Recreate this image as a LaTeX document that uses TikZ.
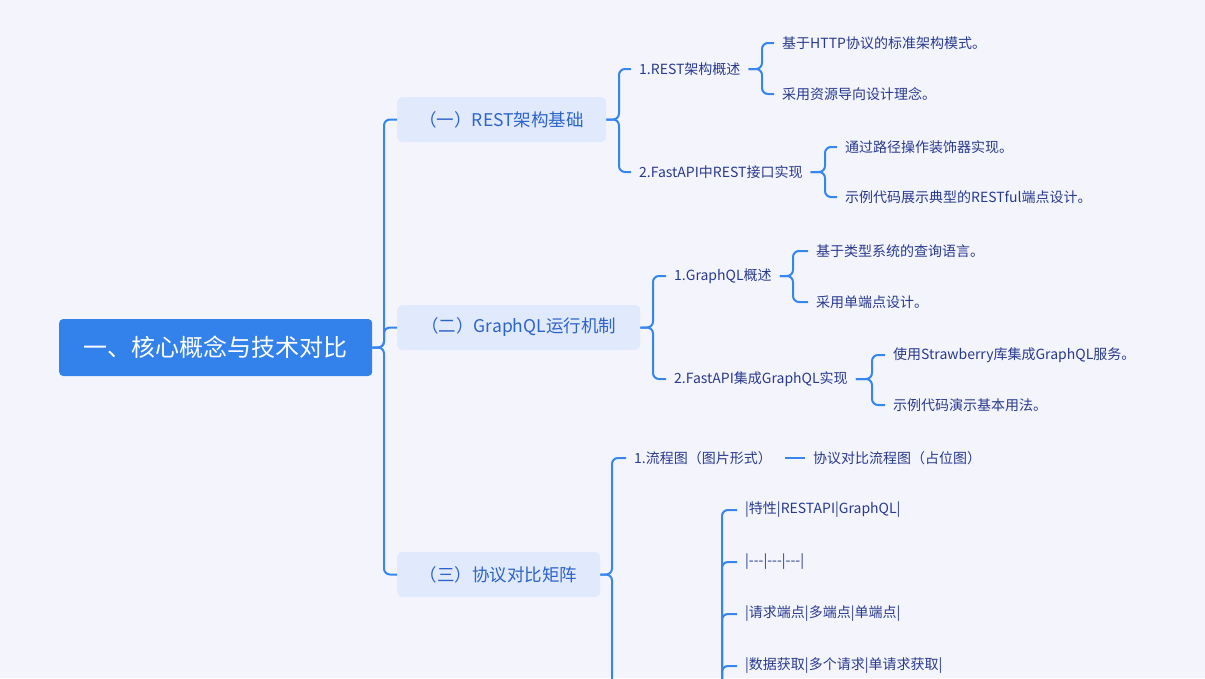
\documentclass[tikz,border=0pt]{standalone}
\usepackage{fontspec}
\setmainfont{Noto Sans CJK SC}
\definecolor{bg}{HTML}{F4F5FC}
\definecolor{rootc}{HTML}{3381EB}
\definecolor{boxc}{HTML}{E1E9FC}
\definecolor{lineC}{HTML}{3586EE}
\definecolor{tone}{HTML}{2C64CC}
\definecolor{ttwo}{HTML}{283A8E}
\tikzset{
  rootnode/.style={fill=rootc, rounded corners=4pt, text=white, font=\fontsize{24}{28}\selectfont, minimum width=313pt, minimum height=57pt, inner sep=0pt, anchor=west},
  catnode/.style={fill=boxc, rounded corners=5pt, text=tone, font=\fontsize{17.5}{21}\selectfont, minimum height=45pt, inner sep=0pt, anchor=west},
  leaf/.style={text=ttwo, font=\fontsize{14}{17}\selectfont, anchor=west, inner xsep=8pt, inner ysep=2pt},
  conn/.style={draw=lineC, line width=2pt, rounded corners=6pt},
}
\begin{document}
\begin{tikzpicture}[x=1pt,y=-1pt]
\useasboundingbox (0,0) rectangle (1205,678);
\fill[bg] (0,0) rectangle (1205,678);
\clip (0,0) rectangle (1205,678);

\node[rootnode] (root) at (59,347.5) {一、核心概念与技术对比};
\node[catnode, minimum width=209pt] (c1) at (397,119.5) {（一）REST架构基础};
\node[catnode, minimum width=243pt] (c2) at (397,327.5) {（二）GraphQL运行机制};
\node[catnode, minimum width=203pt] (c3) at (397,574.5) {（三）协议对比矩阵};

\node[leaf] (a) at (631,69) {1.REST架构概述};
\node[leaf] (b) at (631,172) {2.FastAPI中REST接口实现};
\node[leaf] (c) at (666,276) {1.GraphQL概述};
\node[leaf] (d) at (666,379) {2.FastAPI集成GraphQL实现};
\node[leaf] (e) at (626,458) {1.流程图（图片形式）};

\node[leaf] (a1) at (774,43) {基于HTTP协议的标准架构模式。};
\node[leaf] (a2) at (774,94) {采用资源导向设计理念。};
\node[leaf] (b1) at (837,147) {通过路径操作装饰器实现。};
\node[leaf] (b2) at (837,197) {示例代码展示典型的RESTful端点设计。};
\node[leaf] (cc1) at (808,251) {基于类型系统的查询语言。};
\node[leaf] (cc2) at (808,302) {采用单端点设计。};
\node[leaf] (d1) at (885,355) {使用Strawberry库集成GraphQL服务。};
\node[leaf] (d2) at (885,405) {示例代码演示基本用法。};
\node[leaf] (e1) at (805,458) {协议对比流程图（占位图）};

\node[leaf] (r1) at (737,510) {|特性|RESTAPI|GraphQL|};
\node[leaf] (r2) at (737,562) {|{-}{-}{-}|{-}{-}{-}|{-}{-}{-}|};
\node[leaf] (r3) at (737,614) {|请求端点|多端点|单端点|};
\node[leaf] (r4) at (737,666) {|数据获取|多个请求|单请求获取|};

\coordinate (tb) at (722,700);
\coordinate (c3b) at (612,700);

\draw[conn] (root.east) -- (384,347.5) |- (c1.west);
\draw[conn] (root.east) -- (384,347.5) |- (c2.west);
\draw[conn] (root.east) -- (384,347.5) |- (c3.west);

\draw[conn] (c1.east) -- (619,119.5) |- (a.west);
\draw[conn] (c1.east) -- (619,119.5) |- (b.west);
\draw[conn] (c2.east) -- (653,327.5) |- (c.west);
\draw[conn] (c2.east) -- (653,327.5) |- (d.west);
\draw[conn] (c3.east) -- (612,574.5) |- (e.west);
\draw[conn] (c3.east) -- (612,574.5) -- (c3b);

\draw[conn] (a.east) -- (762,69) |- (a1.west);
\draw[conn] (a.east) -- (762,69) |- (a2.west);
\draw[conn] (b.east) -- (825,172) |- (b1.west);
\draw[conn] (b.east) -- (825,172) |- (b2.west);
\draw[conn] (c.east) -- (793,276) |- (cc1.west);
\draw[conn] (c.east) -- (793,276) |- (cc2.west);
\draw[conn] (d.east) -- (872,379) |- (d1.west);
\draw[conn] (d.east) -- (872,379) |- (d2.west);
\draw[conn, shorten <=5pt] (e.east) -- (e1.west);

\draw[conn] (tb) |- (r1.west);
\draw[conn] (tb) |- (r2.west);
\draw[conn] (tb) |- (r3.west);
\draw[conn] (tb) |- (r4.west);
\end{tikzpicture}
\end{document}
